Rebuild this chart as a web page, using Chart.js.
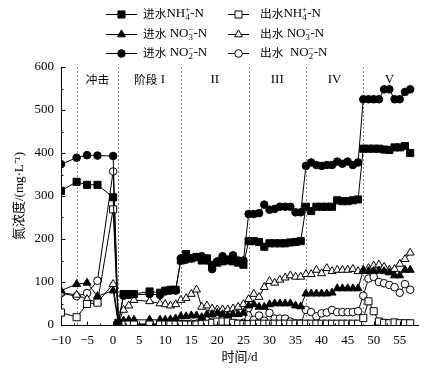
<!DOCTYPE html>
<html><head><meta charset="utf-8">
<script src="https://cdn.jsdelivr.net/npm/chart.js@4.4.1/dist/chart.umd.min.js"></script>
<style>html,body{margin:0;padding:0;background:#fff}#wrap{width:436px;height:376px;position:relative}</style>
</head><body><div id="wrap"><canvas id="c"></canvas></div>
<script>
// ---- data ----
const days = [-10,-7,-5,-3,0, 1,2,3,4,7,9,10,11,12, 13,14,15,16,17,18,19,20,21,22,23,24,25, 26,27,28,29,30,31,32,33,34,35,36, 37,38,39,40,41,42,43,44,45,46,47, 48,49,50,51,52,53,54,55,56,57];
const infNH4 = [312,333,326,326,297, 5,72,72,72,78,75,80,82,82, 150,165,155,158,150,155,140,145,148,150,148,145,140, 195,195,193,182,190,190,190,190,192,193,195, 275,265,275,275,275,275,290,288,288,290,292, 410,410,410,410,408,407,413,413,416,400];
const effNH4 = [29,18,49,52,269, 0,1,1,1,1,1,1,1,1, 1,1,1,1,2,3,5,8,8,8,5,3,2, 2,3,3,3,3,3,3,3,3,3,3, 3,3,3,3,3,3,3,3,3,3,3, 16,55,32,8,5,4,6,4,4,4];
const infNO3 = [80,95,98,67,80, 3,10,12,12,12,12,12,13,15, 20,20,22,22,18,25,25,28,25,22,25,25,28, 45,48,42,42,48,50,50,50,50,45,43, 73,73,73,73,73,75,85,85,85,85,85, 128,125,125,126,125,122,115,115,128,128];
const effNO3 = [75,70,60,53,95, 5,35,45,58,55,50,48,45,48, 58,62,72,82,42,45,38,36,36,36,38,42,48, 60,72,65,88,102,98,105,110,115,112,112, 118,118,128,120,132,125,128,128,128,130,125, 125,132,138,140,135,128,130,142,153,168];
const infNO2 = [374,389,395,394,393, 3,68,70,70,72,70,78,80,80, 155,152,155,158,160,150,130,148,160,152,162,150,150, 258,258,260,280,268,270,275,275,275,262,262, 370,378,372,370,372,372,380,375,380,372,378, 525,525,525,525,548,548,525,525,542,548];
const effNO2 = [74,67,74,103,357, 0,2,2,2,3,2,2,2,2, 2,2,3,3,5,10,8,5,5,3,3,3,5, 40,12,22,10,28,15,15,15,8,4,4, 35,30,20,27,29,35,30,30,30,30,32, 68,108,112,100,97,93,88,75,95,82];

const seriesNames = ['进水NH₄⁺-N','出水NH₄⁺-N','进水 NO₃⁻-N','出水 NO₃⁻-N','进水 NO₂⁻-N','出水  NO₂⁻-N'];
const xTicks = [-10,-5,0,5,10,15,20,25,30,35,40,45,50,55];
const yTicks = [0,100,200,300,400,500,600];
const stageBounds = [-7,1,13,26,37,48];
const stageNames = ['冲击','阶段 I','II','III','IV','V'];
const stageCenters = [-3,7,19.5,31.5,42.5,53];
const xTitle = '时间/d';
const yTitle = '氮浓度/(mg·L⁻¹)';

// ---- styles ----
const SERIF = "'Liberation Serif','Noto Sans CJK SC'";
const styles = [
  {pointStyle:'rect', radius:5, fill:'#000'},
  {pointStyle:'rect', radius:5, fill:'#fff'},
  {pointStyle:'triangle', radius:4.6, fill:'#000'},
  {pointStyle:'triangle', radius:4.6, fill:'#fff'},
  {pointStyle:'circle', radius:3.8, fill:'#000'},
  {pointStyle:'circle', radius:3.8, fill:'#fff'}
];
const values = [infNH4, effNH4, infNO3, effNO3, infNO2, effNO2];

const datasets = values.map((v,i)=>({
  label: seriesNames[i],
  data: days.map((d,k)=>({x:d, y:v[k]})),
  borderColor:'#000', borderWidth:1,
  pointStyle: styles[i].pointStyle,
  pointRadius: styles[i].radius,
  pointHoverRadius: styles[i].radius,
  pointBackgroundColor: styles[i].fill,
  pointBorderColor:'#000', pointBorderWidth:1,
  tension:0, fill:false
}));

// rich text with stacked sub/superscripts
const SUB = {'₀':'0','₁':'1','₂':'2','₃':'3','₄':'4'};
const SUP = {'⁺':'+','⁻':'−','¹':'1'};
function isCJK(ch){ return /[\u3000-\u9fff\uff00-\uffef]/.test(ch); }
function drawRich(ctx, text, x, y, base){
  ctx.textBaseline='middle'; ctx.textAlign='left'; ctx.fillStyle='#000';
  let i=0;
  while(i<text.length){
    const ch=text[i];
    if(SUB[ch]||SUP[ch]){
      let sub='', sup='';
      while(i<text.length && (SUB[text[i]]||SUP[text[i]])){ if(SUB[text[i]]) sub+=SUB[text[i]]; else sup+=SUP[text[i]]; i++; }
      ctx.font = (base*0.68)+"px "+SERIF;
      let w=0;
      if(sup){ ctx.fillText(sup, x, y-base*0.32); w=Math.max(w,ctx.measureText(sup).width); }
      if(sub){ ctx.fillText(sub, x, y+base*0.3); w=Math.max(w,ctx.measureText(sub).width); }
      x+=w; continue;
    }
    let run=''; const cj=isCJK(ch);
    while(i<text.length && !SUB[text[i]] && !SUP[text[i]] && isCJK(text[i])===cj){ run+=text[i]; i++; }
    ctx.font = (cj? (base*0.9)+"px 'Noto Sans CJK SC'" : base+"px "+SERIF);
    ctx.fillText(run, x, y);
    x+=ctx.measureText(run).width;
  }
  return x;
}

const deco = {
  id:'deco',
  beforeDatasetsDraw(chart){
    const {ctx, scales:{x,y}} = chart;
    ctx.save();
    ctx.strokeStyle='#888'; ctx.lineWidth=1; ctx.setLineDash([2,2]);
    stageBounds.forEach(d=>{
      const px=Math.round(x.getPixelForValue(d))+0.5;
      ctx.beginPath(); ctx.moveTo(px,y.getPixelForValue(600)); ctx.lineTo(px,y.getPixelForValue(0)); ctx.stroke();
    });
    ctx.setLineDash([]);
    const ly = y.getPixelForValue(600)+13;
    stageNames.forEach((s,i)=>{
      ctx.font = "13px "+SERIF;
      // measure width
      const tmp = document.createElement('canvas').getContext('2d');
      let w=0;
      for(const ch of s){ tmp.font = isCJK(ch)? "11.7px 'Noto Sans CJK SC'" : "13px "+SERIF; w+=tmp.measureText(ch).width; }
      drawRich(ctx, s, x.getPixelForValue(stageCenters[i])-w/2, ly, 13);
    });
    ctx.restore();
  },
  afterDraw(chart){
    const {ctx, scales:{x,y}} = chart;
    ctx.save();
    ctx.strokeStyle='#000'; ctx.lineWidth=1;
    const by = Math.round(y.getPixelForValue(0))+0.5;
    const lx = Math.round(x.getPixelForValue(-10))+0.5;
    ctx.beginPath();
    for(let v=-10; v<=57.5; v+=2.5){
      const px=Math.round(x.getPixelForValue(v))+0.5;
      const len = (v%5===0)?4:2;
      ctx.moveTo(px,by); ctx.lineTo(px,by-len);
    }
    for(let v=0; v<=600; v+=50){
      const py=Math.round(y.getPixelForValue(v))+0.5;
      const len = (v%100===0)?4:2;
      ctx.moveTo(lx,py); ctx.lineTo(lx+len,py);
    }
    ctx.stroke();
    // legend
    const rows=[14,34,53];
    const cols=[{l0:106,l1:137,m:121.5,t:143},{l0:228,l1:249,m:238.5,t:260}];
    for(let i=0;i<6;i++){
      const r=rows[Math.floor(i/2)], c=cols[i%2];
      ctx.strokeStyle='#000'; ctx.lineWidth=1;
      ctx.beginPath(); ctx.moveTo(c.l0,r+0.5); ctx.lineTo(c.l1,r+0.5); ctx.stroke();
      ctx.fillStyle=styles[i].fill; ctx.strokeStyle='#000';
      Chart.helpers.drawPoint(ctx,{pointStyle:styles[i].pointStyle, radius:styles[i].radius, rotation:0, borderWidth:1}, c.m, r+0.5);
      drawRich(ctx, seriesNames[i], c.t, r, 13);
    }
    ctx.restore();
  }
};

new Chart(document.getElementById('c'), {
  type:'line',
  data:{datasets},
  options:{
    responsive:true, maintainAspectRatio:false, animation:false,
    layout:{padding:{top:67,right:18,left:0,bottom:0}},
    plugins:{legend:{display:false}, tooltip:{enabled:false}},
    scales:{
      x:{type:'linear', min:-10, max:58.5,
        afterBuildTicks:s=>{ s.ticks = xTicks.map(v=>({value:v})); },
        afterFit:s=>{ s.height=51; },
        grid:{display:true, drawOnChartArea:false, drawTicks:false},
        border:{display:true,color:'#000',width:1},
        ticks:{color:'#000', padding:8, maxRotation:0, autoSkip:false, font:{family:SERIF,size:13},
          callback:v=> v<0 ? '\u2212'+Math.abs(v) : String(v)},
        title:{display:true, text:xTitle, color:'#000', font:{family:SERIF,size:13}, padding:{top:0,bottom:11}}
      },
      y:{type:'linear', min:0, max:600,
        afterBuildTicks:s=>{ s.ticks = yTicks.map(v=>({value:v})); },
        afterFit:s=>{ s.width=61; },
        grid:{display:true, drawOnChartArea:false, drawTicks:false},
        border:{display:true,color:'#000',width:1},
        ticks:{color:'#000', padding:7, font:{family:SERIF,size:13}},
        title:{display:true, text:yTitle, color:'#000', font:{family:SERIF,size:13}, padding:{top:12,bottom:0}}
      }
    }
  },
  plugins:[deco]
});
</script></body></html>
